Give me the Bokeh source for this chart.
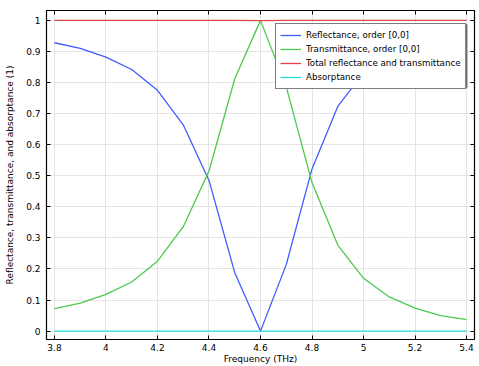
from bokeh.plotting import figure
from bokeh.models import (Range1d, LinearAxis, FixedTicker, CustomJSTickFormatter,
                          Legend, LegendItem, BoxAnnotation)
from bokeh.embed import file_html
from bokeh.resources import INLINE

freq = [3.8, 3.9, 4.0, 4.1, 4.2, 4.3, 4.4, 4.5, 4.6, 4.7, 4.8, 4.9, 5.0, 5.1, 5.2, 5.3, 5.4]
transmittance = [0.072, 0.090, 0.118, 0.158, 0.225, 0.336, 0.515, 0.812, 1.0, 0.786,
                 0.478, 0.277, 0.170, 0.110, 0.074, 0.050, 0.037]
reflectance = [0.928, 0.910, 0.882, 0.842, 0.775, 0.664, 0.485, 0.188, 0.0, 0.214,
               0.522, 0.723, 0.830, 0.890, 0.926, 0.950, 0.963]
total = [1.0, 1.0, 1.0, 1.0, 1.0, 1.0, 1.0, 1.0, 0.999, 1.0, 1.0, 1.0, 1.0, 1.0, 1.0, 1.0, 1.0]
absorptance = [0.0] * 17

x_ticks = [3.8, 4.0, 4.2, 4.4, 4.6, 4.8, 5.0, 5.2, 5.4]
y_ticks = [0.0, 0.1, 0.2, 0.3, 0.4, 0.5, 0.6, 0.7, 0.8, 0.9, 1.0]
labels = ["Reflectance, order [0,0]", "Transmittance, order [0,0]",
          "Total reflectance and transmittance", "Absorptance"]
colors = ["#3f5cff", "#4cc84c", "#e04444", "#22dede"]

FONT = "DejaVu Sans"
W, H = 479, 366
ML, MR, MT, MB = 46, 5, 10, 24
x0, x1 = 3.769, 5.431
y0, y1 = -0.027, 1.0318

p = figure(width=W, height=H, output_backend="svg", toolbar_location=None,
           x_range=Range1d(x0, x1), y_range=Range1d(y0, y1),
           min_border_left=ML, min_border_right=MR, min_border_top=MT, min_border_bottom=MB,
           x_axis_location=None, y_axis_location=None)
p.outline_line_color = "black"
p.outline_line_width = 1.2
p.background_fill_color = "white"
p.border_fill_color = "white"

fmt = CustomJSTickFormatter(code="return tick.toFixed(1).replace(/\\.0$/, '');")
blank = CustomJSTickFormatter(code="return '';")

def style(ax, show_labels):
    ax.major_tick_in = 4
    ax.major_tick_out = 0
    ax.minor_tick_in = 0
    ax.minor_tick_out = 0
    ax.axis_line_color = "black"
    ax.major_tick_line_color = "black"
    ax.major_label_text_font = FONT
    ax.major_label_text_font_size = "9px"
    ax.major_label_text_color = "black"
    ax.axis_label_text_font = FONT
    ax.axis_label_text_font_size = "9px"
    ax.axis_label_text_font_style = "normal"
    ax.axis_label_text_color = "black"
    if not show_labels:
        ax.formatter = blank
        ax.major_label_standoff = 0

xb = LinearAxis(ticker=FixedTicker(ticks=x_ticks), formatter=fmt, axis_label="Frequency (THz)")
style(xb, True)
xb.major_label_standoff = 4
xb.axis_label_standoff = 0
yl = LinearAxis(ticker=FixedTicker(ticks=y_ticks), formatter=fmt,
                axis_label="Reflectance, transmittance, and absorptance (1)")
style(yl, True)
yl.major_label_standoff = 6
yl.axis_label_standoff = 8
xt = LinearAxis(ticker=FixedTicker(ticks=x_ticks))
style(xt, False)
yr = LinearAxis(ticker=FixedTicker(ticks=y_ticks))
style(yr, False)
p.add_layout(xb, "below")
p.add_layout(yl, "left")
p.add_layout(xt, "above")
p.add_layout(yr, "right")

p.xgrid.ticker = FixedTicker(ticks=x_ticks)
p.ygrid.ticker = FixedTicker(ticks=y_ticks)
for g in (p.xgrid, p.ygrid):
    g.grid_line_color = "#e4e4e4"
    g.grid_line_width = 1

series = [reflectance, transmittance, total, absorptance]
rs = []
for s, c in zip(series, colors):
    rs.append(p.line(freq, s, line_color=c, line_width=1.3))

# legend drop shadow (in data units derived from frame pixel size)
fw = W - ML - MR
fh = H - MT - MB
def px2x(px):
    return x0 + (px - ML) / fw * (x1 - x0)
def py2y(py):
    return y1 - (py - MT) / fh * (y1 - y0)
shadow = BoxAnnotation(left=px2x(278), right=px2x(467), top=py2y(24), bottom=py2y(88.5),
                       fill_color="#555555", fill_alpha=0.8, line_alpha=0)
p.add_layout(shadow)

legend = Legend(items=[LegendItem(label=l, renderers=[r]) for l, r in zip(labels, rs)],
                location=(229, 250), orientation="vertical")
legend.label_text_font = FONT
legend.label_text_font_size = "8.7px"
legend.label_text_color = "black"
legend.label_standoff = 5
legend.label_height = 14
legend.glyph_height = 14
legend.glyph_width = 21
legend.spacing = 0
legend.padding = 4
legend.margin = 0
legend.border_line_color = "black"
legend.border_line_width = 1.6
legend.background_fill_color = "white"
legend.background_fill_alpha = 1.0
p.add_layout(legend)

open("out.html", "w").write(file_html(p, INLINE))
